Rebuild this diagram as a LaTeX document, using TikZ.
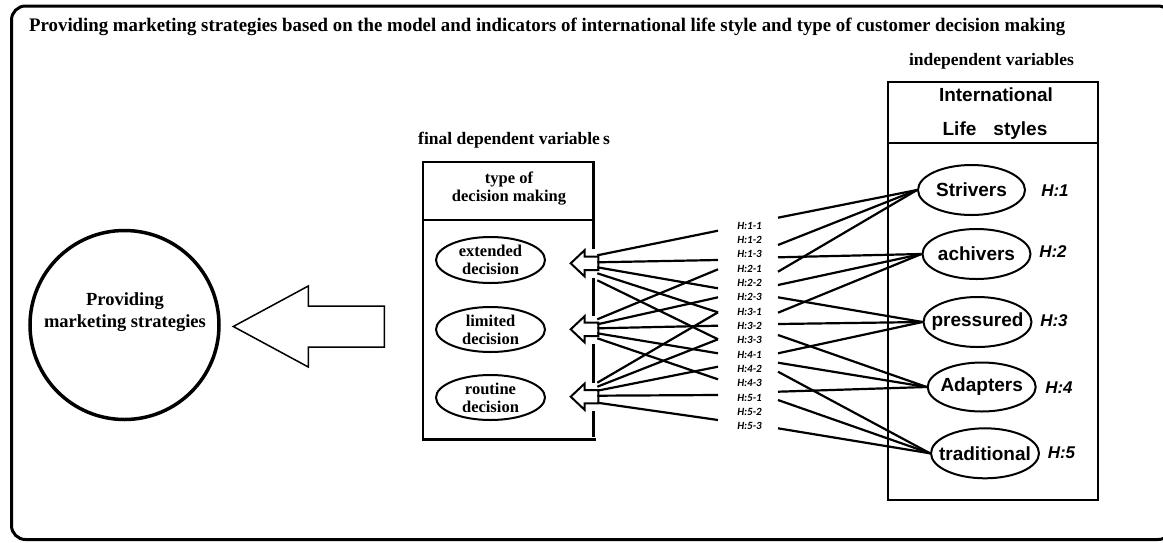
\documentclass[tikz,border=0pt]{standalone}
\usepackage{graphicx}
\usepackage{fontspec}
\setmainfont{Liberation Serif}
\setsansfont{Liberation Sans}
\newfontfamily\hypfont{Carlito}
\usetikzlibrary{shapes.geometric,calc}
\begin{document}
\begin{tikzpicture}[x=1pt,y=-1pt,
  frameline/.style={line width=3pt},
  boxline/.style={line width=2.5pt},
  oval/.style={ellipse,draw,line width=2pt,inner sep=0pt},
  link/.style={line width=2.2pt},
  headtext/.style={font=\fontsize{17.5}{20}\selectfont\bfseries,inner sep=0pt},
  decisiontext/.style={font=\fontsize{16.5}{18}\selectfont\bfseries,align=center,inner sep=0pt},
  goaltext/.style={font=\fontsize{18.5}{22}\selectfont\bfseries,align=center,inner sep=0pt},
  lifetext/.style={font=\fontsize{19}{22}\selectfont\sffamily\bfseries,inner sep=0pt},
  hyptext/.style={font=\fontsize{17}{20}\selectfont\sffamily\bfseries\itshape,inner sep=0pt},
  subhyp/.style={font=\fontsize{11}{12}\selectfont\hypfont\bfseries\itshape,inner sep=0pt},
  blockarrow/.style={draw,fill=white,line join=miter}
]
\useasboundingbox (0,0) rectangle (1163,542);

% outer rounded frame (right edge runs off the page)
\begin{scope}
  \clip (0,0) rectangle (1163,542);
  \draw[frameline,rounded corners=14pt] (11.5,6) rectangle (1172,539.5);
\end{scope}

% title and group headings
\node[anchor=base west,inner sep=0pt] (title) at (29,31)
  {\resizebox{1036pt}{13.5pt}{\bfseries Providing marketing strategies based on the model and indicators of international life style and type of customer decision making}};
\node[headtext,anchor=base] (indep) at (991.5,65) {independent variables};
\node[headtext,anchor=base] (finaldep) at (514,144) {final dependent variable{\kern3pt}s};

% goal circle and big arrow
\node[circle,draw,line width=3.5pt,minimum size=189pt,inner sep=0pt] (goal) at (124.5,325) {};
\node[goaltext] (goal-t) at (125,312) {Providing\\marketing strategies};
\draw[blockarrow,line width=1.5pt] (233.3,326.5) -- (308.3,286) -- (308.3,306) -- (384.3,306)
  -- (384.3,347) -- (308.3,347) -- (308.3,367) -- cycle;

% decision-making box
\draw[boxline] (423,439.3) -- (423,162) -- (593.3,162) -- (593.3,220);
\draw[boxline] (423,220) -- (593.3,220);
\draw[boxline] (421.8,439.3) -- (596,439.3);
\foreach \a/\b in {220/249, 278/316, 344/383, 411/437}
  \draw[boxline] (593.3,\a) -- (593.3,\b);
\node[decisiontext] (dm) at (509,189) {type of\\decision making};

\node[oval,minimum width=109pt,minimum height=46pt] (ext) at (490.5,260) {};
\node[decisiontext] (ext-t) at (ext) {extended\\decision};
\node[oval,minimum width=109pt,minimum height=45pt] (lim) at (490.5,329.5) {};
\node[decisiontext] (lim-t) at (lim) {limited\\decision};
\node[oval,minimum width=109pt,minimum height=45pt] (rou) at (490.5,397.5) {};
\node[decisiontext] (rou-t) at (rou) {routine\\decision};

% small hollow arrows on the box edge
\coordinate (aE) at (598.3,263.3);
\coordinate (aL) at (598.3,329.3);
\coordinate (aR) at (598.3,396.7);
\foreach \p in {aE,aL,aR}
  \draw[blockarrow,line width=2pt] ($(\p)+(-27.6,0)$) -- ++(13.8,-13) -- ++(0,6.3) -- ++(13.8,0)
    -- ++(0,13.4) -- ++(-13.8,0) -- ++(0,6.3) -- cycle;

% life-styles box
\draw[boxline] (888,82) rectangle (1098,500);
\draw[boxline] (888,143) -- (1098,143);
\node[lifetext,anchor=base] (intl) at (996,101.5) {International};
\node[lifetext,anchor=base] (life) at (995,135.5) {Life\hspace{0.9em}styles};

\node[oval,minimum width=107pt,minimum height=50pt] (s1) at (971.5,190) {};
\node[lifetext] (s1-t) at (s1) {Strivers};
\node[oval,minimum width=108pt,minimum height=50pt] (s2) at (976.5,254) {};
\node[lifetext] (s2-t) at (s2) {achivers};
\node[oval,minimum width=108pt,minimum height=50pt] (s3) at (977.5,322) {};
\node[lifetext] (s3-t) at (s3) {pressured};
\node[oval,minimum width=108pt,minimum height=49pt] (s4) at (981.7,387) {};
\node[lifetext] (s4-t) at (s4) {Adapters};
\node[oval,minimum width=108pt,minimum height=50pt] (s5) at (985,453.3) {};
\node[lifetext] (s5-t) at (s5) {traditional};

\node[hyptext] (H1) at (1055,191) {H:1};
\node[hyptext] (H2) at (1053,252) {H:2};
\node[hyptext] (H3) at (1054,321) {H:3};
\node[hyptext] (H4) at (1059,387.5) {H:4};
\node[hyptext] (H5) at (1061.5,452.5) {H:5};

% sub-hypothesis labels
\foreach \n/\t [count=\k from 0] in {h11/H:1-1,h12/H:1-2,h13/H:1-3,h21/H:2-1,h22/H:2-2,h23/H:2-3,
    h31/H:3-1,h32/H:3-2,h33/H:3-3,h41/H:4-1,h42/H:4-2,h43/H:4-3,h51/H:5-1,h52/H:5-2,h53/H:5-3}
  \node[subhyp] (\n) at (749.5,225.7+14.33*\k) {\t};

% line ends beside the labels
\foreach \y [count=\k] in {230.7,260,269.3,288.3,297.3,312.3,325.7,339.3,353.3,366.7,379.3,395,420}
  \coordinate (L\k) at (718,\y);
\foreach \y [count=\k] in {217.7,245,257.3,271.7,285,297.3,312.7,324,335,353.3,362.7,371.7,391.7,400,428.3}
  \coordinate (R\k) at (778,\y);

% decision arrows to labels
\foreach \d/\e in {-8/L1,-1/L2,4/L4,10/L6,17/L8}
  \draw[link] ($(aE)+(-1,\d)$) -- (\e);
\foreach \d/\e in {-10/L3,-5/L5,-1/L7,4/L9,9/L11}
  \draw[link] ($(aL)+(-1,\d)$) -- (\e);
\foreach \d/\e in {-14/L6,-10/L8,-6/L10,-1/L12,6/L13}
  \draw[link] ($(aR)+(-1,\d)$) -- (\e);

% labels to life styles
\foreach \r/\s in {R1/s1,R2/s1,R4/s1,R3/s2,R5/s2,R7/s2,R6/s3,R8/s3,R10/s3,
    R9/s4,R11/s4,R13/s4,R12/s5,R14/s5,R15/s5}
  \draw[link] (\r) -- (\s.west);
\end{tikzpicture}
\end{document}
